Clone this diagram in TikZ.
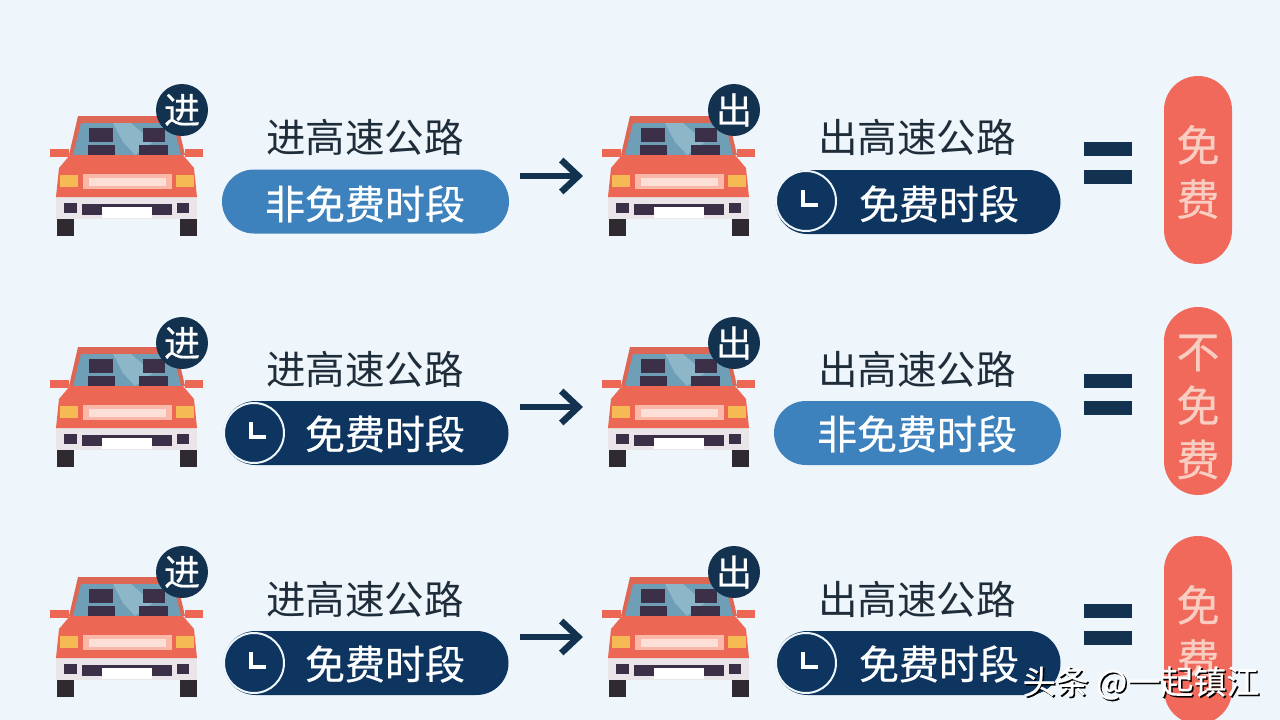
\documentclass[tikz,border=0pt]{standalone}
\usepackage{fontspec}
\usepackage{tikz}
\usetikzlibrary{positioning, calc, arrows.meta, shapes.misc}
\newfontfamily\cjk{Noto Sans CJK SC}
\newfontfamily\cjkheavy[FakeBold=0.5]{Noto Sans CJK SC}
\definecolor{paper}{HTML}{EEF5FB}
\definecolor{navy}{HTML}{0D3560}
\definecolor{skyblue}{HTML}{3D82BC}
\definecolor{ink}{HTML}{1F2D3A}
\definecolor{deepbar}{HTML}{12324F}
\definecolor{coral}{HTML}{F0695A}
\definecolor{carred}{HTML}{EC6855}
\definecolor{roofred}{HTML}{DE6654}
\definecolor{bumper}{HTML}{EAE5E8}
\definecolor{tyre}{HTML}{2E2A30}
\definecolor{glass}{HTML}{6F9FB6}
\definecolor{glasslight}{HTML}{8DB6C8}
\definecolor{seat}{HTML}{3C3048}
\definecolor{lamp}{HTML}{F6BA55}
\definecolor{grille}{HTML}{FAB9A8}
\definecolor{grillelight}{HTML}{FCE0D8}
\definecolor{softtext}{HTML}{F9CDC2}
\tikzset{
	hlabel/.style={font=\cjk\fontsize{39.5}{39.5}\selectfont, text=ink, inner sep=0pt},
	pilltext/.style={font=\cjkheavy\fontsize{40}{40}\selectfont, text=white, inner sep=0pt},
	bluepill/.style={rounded rectangle, fill=skyblue, minimum width=287pt, minimum height=64pt, inner sep=0pt},
	darkpill/.style={rounded rectangle, fill=navy, minimum width=285pt, minimum height=64pt, inner sep=0pt},
	clockface/.style={circle, fill=navy, draw=paper, line width=2pt, minimum size=60pt, inner sep=0pt},
	badge/.style={circle, fill=deepbar, minimum size=52pt, inner sep=0pt, text=white, font=\cjkheavy\fontsize{36}{36}\selectfont},
	eqbar/.style={rectangle, fill=deepbar, minimum width=48pt, minimum height=14pt, inner sep=0pt},
	resultpill/.style={rounded rectangle, rounded rectangle arc length=180, rotate=90, fill=coral, minimum width=188pt, minimum height=68pt, inner sep=0pt},
	resulttext/.style={font=\cjkheavy\fontsize{43}{54}\selectfont, text=softtext, align=center, inner sep=0pt},
	goarrow/.style={draw=deepbar, line width=6.5pt, -{Straight Barb[length=17pt, width=32pt, line width=6.5pt]}, shorten <=11pt, shorten >=19pt},
	wmark/.style={font=\cjkheavy\fontsize{33}{33}\selectfont, inner sep=0pt},
	clock/.pic={
		\node[clockface] (-face) at (0,0) {};
		\draw[white, line width=3.5pt] (-3,-11) -- (-3,4) -- (12,4);
	},
	car/.pic={
		\coordinate (-w) at (-77,0);
		% tyres and mirrors
		\fill[tyre] (-70,42) rectangle (-53,60);
		\fill[tyre] (53,42) rectangle (70,60);
		\fill[carred] (-77,-27) rectangle (-58,-19);
		\fill[carred] (58,-27) rectangle (76,-19);
		% roof and windshield
		\fill[roofred] (-49,-60) -- (49,-60) -- (58,-21) -- (-58,-21) -- cycle;
		\fill[glass] (-46,-53) -- (46,-53) -- (54,-21) -- (-54,-21) -- cycle;
		\fill[glasslight] (-14,-53) -- (4,-53) -- (26,-34) -- (8,-21) -- (-4,-34) -- cycle;
		\fill[seat] (-38,-48) rectangle (-14,-34);
		\fill[seat] (16,-48) rectangle (38,-34);
		\fill[seat] (-39,-31) rectangle (-12,-21);
		\fill[seat] (12,-31) rectangle (41,-21);
		% body
		\fill[bumper] (-71,20) rectangle (70,43);
		\fill[carred] (-57,-21) -- (56,-21) -- (67,-8) -- (70,21) -- (-71,21) -- (-68,-8) -- cycle;
		\fill[lamp] (-67,-1) rectangle (-49,11);
		\fill[lamp] (49,-1) rectangle (67,11);
		\fill[grille] (-44,-2) rectangle (45,13);
		\fill[grillelight] (-38,2) rectangle (39,10);
		% lower part
		\fill[seat] (-63,27) rectangle (-50,37);
		\fill[seat] (50,27) rectangle (62,37);
		\fill[seat] (-45,28) rectangle (45,39);
		\fill[white] (-25,31) rectangle (25,42);
	}
}
\begin{document}
\begin{tikzpicture}[x=1pt, y=-1pt]
	\useasboundingbox (0,0) rectangle (1280,720);
	\clip (0,0) rectangle (1280,720);
	\fill[paper] (0,0) rectangle (1280,720);

	%Row 1
	\pic (carA) at (127,176) {car};
	\node[badge] (badgeA) at (182,110) {进};
	\node[hlabel] (inA) at (365,137) {进高速公路};
	\node[bluepill] (inpillA) at (365.5,201.5) {};
	\node[pilltext] (intextA) at (365,204) {非免费时段};
	\pic (carB) at (679,176) {car};
	\node[badge] (badgeB) at (734,110) {出};
	\node[hlabel] (outA) at (917,137) {出高速公路};
	\node[darkpill] (outpillA) at (918,202) {};
	\pic (clockA) at (806,201) {clock};
	\node[pilltext] (outtextA) at (939,204) {免费时段};
	\node[eqbar] (eqA) at (1108,149) {};
	\node[eqbar] (eqB) at (1108,177) {};
	\node[resultpill] (resA) at (1198,170) {};
	\node[resulttext] (restextA) at (1198,172) {免\\费};
	\draw[goarrow] (inpillA.east |- carB-w) -- (carB-w);

	%Row 2
	\pic (carC) at (127,407) {car};
	\node[badge] (badgeC) at (182,343) {进};
	\node[hlabel] (inB) at (365,369) {进高速公路};
	\node[darkpill] (inpillB) at (366,433) {};
	\pic (clockB) at (254,433) {clock};
	\node[pilltext] (intextB) at (385,434) {免费时段};
	\pic (carD) at (679,407) {car};
	\node[badge] (badgeD) at (734,343) {出};
	\node[hlabel] (outB) at (917,369) {出高速公路};
	\node[bluepill] (outpillB) at (917.5,433) {};
	\node[pilltext] (outtextB) at (917,434) {非免费时段};
	\node[eqbar] (eqC) at (1108,381) {};
	\node[eqbar] (eqD) at (1108,408) {};
	\node[resultpill] (resB) at (1198,401) {};
	\node[resulttext] (restextB) at (1198,407) {不\\免\\费};
	\draw[goarrow] (inpillB.east |- carD-w) -- (carD-w);

	%Row 3
	\pic (carE) at (127,637) {car};
	\node[badge] (badgeE) at (182,572) {进};
	\node[hlabel] (inC) at (365,599) {进高速公路};
	\node[darkpill] (inpillC) at (366,663) {};
	\pic (clockC) at (254,663) {clock};
	\node[pilltext] (intextC) at (385,664) {免费时段};
	\pic (carF) at (679,637) {car};
	\node[badge] (badgeF) at (734,572) {出};
	\node[hlabel] (outC) at (917,599) {出高速公路};
	\node[darkpill] (outpillC) at (918,663) {};
	\pic (clockD) at (806,663) {clock};
	\node[pilltext] (outtextC) at (939,664) {免费时段};
	\node[eqbar] (eqE) at (1108,611) {};
	\node[eqbar] (eqF) at (1108,638) {};
	\node[resultpill] (resC) at (1198,630) {};
	\node[resulttext] (restextC) at (1198,632) {免\\费};
	\draw[goarrow] (inpillC.east |- carF-w) -- (carF-w);

	%Watermark
	\node[wmark, text=black] (markshadow) at (1142.5,684.5) {头条 @一起镇江};
	\node[wmark, text=white] (marktext) at (1141,683) {头条 @一起镇江};
\end{tikzpicture}
\end{document}
